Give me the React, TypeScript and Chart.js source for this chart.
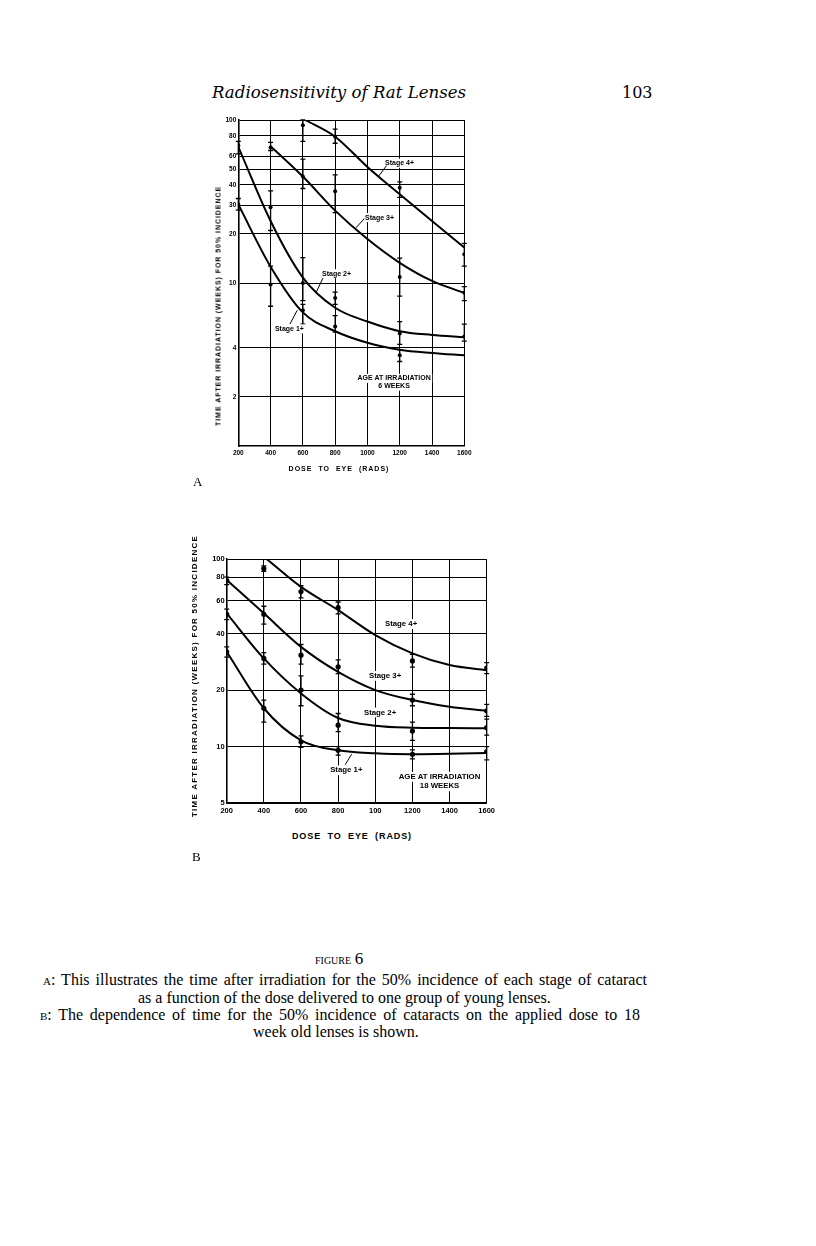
import React, { useEffect, useRef } from 'react';
import { Chart, registerables } from 'chart.js';

Chart.register(...registerables);

// ---------- shared axis data ----------
const DOSE_TICKS = [200, 400, 600, 800, 1000, 1200, 1400, 1600];
const A_X_LABELS = ['200', '400', '600', '800', '1000', '1200', '1400', '1600'];
const B_X_LABELS = ['200', '400', '600', '800', '100', '1200', '1400', '1600'];
const A_Y_TICKS = [2, 4, 10, 20, 30, 40, 50, 60, 80, 100];
const B_Y_TICKS = [5, 10, 20, 40, 60, 80, 100];

// ---------- Panel A (6 weeks) fitted curves ----------
const curveA4Dose = [615, 800, 1000, 1200, 1400, 1600];
const curveA4Time = [100, 79, 51.5, 35, 24, 16.5];
const curveA3Dose = [400, 600, 800, 1000, 1200, 1400, 1600];
const curveA3Time = [69, 45, 27.8, 18.6, 13.3, 10.3, 8.7];
const curveA2Dose = [200, 400, 600, 800, 1000, 1200, 1400, 1600];
const curveA2Time = [68.5, 24, 10.8, 7.05, 5.8, 5.06, 4.8, 4.65];
const curveA1Dose = [200, 400, 600, 800, 1000, 1200, 1400, 1600];
const curveA1Time = [30.3, 12.6, 6.6, 5.06, 4.3, 3.9, 3.72, 3.6];

// ---------- Panel A observed points ----------
const ptA4Dose = [600, 800, 1200, 1600];
const ptA4Time = [93, 79, 38.4, 15];
const ptA4Lo = [74, 72, 33.5, 12.7];
const ptA4Hi = [105, 88, 41.7, 17.5];
const ptA3Dose = [400, 600, 800, 1200, 1600];
const ptA3Time = [67.8, 45, 36.6, 10.9, 8.7];
const ptA3Lo = [65, 38, 27, 8.3, 7.8];
const ptA3Hi = [73, 57.5, 46, 14.2, 9.5];
const ptA2Dose = [200, 400, 600, 800, 1200, 1600];
const ptA2Time = [70, 29.2, 10, 8.1, 4.9, 4.7];
const ptA2Lo = [62, 21, 7.8, 7.4, 4.2, 4.4];
const ptA2Hi = [74, 36.7, 14.3, 8.8, 5.8, 5.6];
const ptA1Dose = [200, 400, 600, 800, 1200];
const ptA1Time = [30.3, 9.8, 6.8, 5.4, 3.6];
const ptA1Lo = [28, 7.2, 5.6, 5.0, 3.3];
const ptA1Hi = [33, 12.7, 7.4, 6.3, 3.9];

// ---------- Panel B (18 weeks) fitted curves ----------
const curveB4Dose = [415, 600, 800, 1000, 1200, 1400, 1600];
const curveB4Time = [100, 71, 53.4, 39.3, 31.4, 27.2, 25.5];
const curveB3Dose = [200, 400, 600, 800, 1000, 1200, 1400, 1600];
const curveB3Time = [77.3, 51.3, 34, 25, 20, 17.7, 16.3, 15.5];
const curveB2Dose = [200, 400, 600, 800, 1000, 1200, 1400, 1600];
const curveB2Time = [51.3, 29.5, 19.2, 14.2, 12.9, 12.6, 12.55, 12.5];
const curveB1Dose = [200, 400, 600, 800, 1000, 1200, 1400, 1600];
const curveB1Time = [32, 16, 10.8, 9.55, 9.2, 9.1, 9.15, 9.25];

// ---------- Panel B observed points ----------
const ptB4Dose = [400, 600, 800, 1200, 1600];
const ptB4Time = [89, 67, 55, 28.6, 26.2];
const ptB4Lo = [86, 62, 51, 26.5, 24.5];
const ptB4Hi = [92, 72, 59, 31, 28];
const ptB3Dose = [200, 400, 600, 800, 1200, 1600];
const ptB3Time = [77, 50.7, 30.7, 26.6, 17.7, 15.5];
const ptB3Lo = [73, 45, 27.5, 24.5, 16.5, 14.5];
const ptB3Hi = [80, 56, 35, 29, 19, 16.8];
const ptB2Dose = [200, 400, 600, 800, 1200, 1600];
const ptB2Time = [50.7, 29.5, 20, 13, 12.1, 12.6];
const ptB2Lo = [47.5, 27.5, 16.5, 12, 10.8, 11.5];
const ptB2Hi = [54, 31.7, 23.8, 15, 13.5, 14];
const ptB1Dose = [200, 400, 600, 800, 1200, 1600];
const ptB1Time = [32, 16, 10.6, 9.55, 9.1, 9.4];
const ptB1Lo = [30, 13.5, 9.9, 9, 8.6, 8.5];
const ptB1Hi = [34, 17.7, 11.4, 10, 9.6, 10];

// ---------- in-plot labels (data coordinates) ----------
const A_NOTES = [
  { text: 'Stage 4+', x: 1109, y: 54.3, align: 'left' },
  { text: 'Stage 3+', x: 985, y: 25.2, align: 'left' },
  { text: 'Stage 2+', x: 719, y: 11.4, align: 'left' },
  { text: 'Stage 1+', x: 427, y: 5.23, align: 'left' },
  { text: 'AGE AT IRRADIATION', x: 1165, y: 2.6, align: 'center' },
  { text: '6 WEEKS', x: 1165, y: 2.33, align: 'center' },
];
const A_LEADERS = [
  [[1068, 45], [1118, 52.5]],
  [[929, 21.8], [980, 24.8]],
  [[681, 8.7], [724, 10.7]],
  [[520, 5.6], [565, 6.8]],
];
const B_NOTES = [
  { text: 'Stage 4+', x: 1052, y: 45, align: 'left' },
  { text: 'Stage 3+', x: 966, y: 23.8, align: 'left' },
  { text: 'Stage 2+', x: 939, y: 15.2, align: 'left' },
  { text: 'Stage 1+', x: 757, y: 7.47, align: 'left' },
  { text: 'AGE AT IRRADIATION', x: 1346, y: 6.9, align: 'center' },
  { text: '18 WEEKS', x: 1346, y: 6.14, align: 'center' },
];
const B_LEADERS = [[[873, 9.1], [838, 8.0]]];

const pts = (xs: number[], ys: number[]) => xs.map((x, i) => ({ x, y: ys[i] }));

const curve = (xs: number[], ys: number[]) => ({
  data: pts(xs, ys),
  showLine: true,
  borderColor: '#000',
  borderWidth: 2,
  pointRadius: 0,
  cubicInterpolationMode: 'monotone',
  fill: false,
});

const marks = (xs: number[], ys: number[], lo: number[], hi: number[], r: number) => ({
  data: pts(xs, ys),
  showLine: false,
  backgroundColor: '#000',
  borderColor: '#000',
  pointRadius: r,
  pointBorderWidth: 0,
  errLo: lo,
  errHi: hi,
});

const errorBarPlugin = {
  id: 'errorBars',
  afterDatasetsDraw(chart: any, _a: any, opts: any) {
    const { ctx, chartArea, scales } = chart;
    const xs = scales.x;
    const ys = scales.y;
    ctx.save();
    ctx.strokeStyle = '#000';
    ctx.lineWidth = opts.width || 1.3;
    chart.data.datasets.forEach((ds: any) => {
      if (!ds.errLo) return;
      ds.data.forEach((p: any, i: number) => {
        const px = xs.getPixelForValue(p.x);
        const top = Math.max(chartArea.top, ys.getPixelForValue(ds.errHi[i]));
        const bot = Math.min(chartArea.bottom, ys.getPixelForValue(ds.errLo[i]));
        const cap = opts.cap || 2.5;
        ctx.beginPath();
        ctx.moveTo(px, top);
        ctx.lineTo(px, bot);
        ctx.moveTo(px - cap, top);
        ctx.lineTo(px + cap, top);
        ctx.moveTo(px - cap, bot);
        ctx.lineTo(px + cap, bot);
        ctx.stroke();
      });
    });
    ctx.restore();
  },
};

const notesPlugin = {
  id: 'notes',
  afterDatasetsDraw(chart: any, _a: any, opts: any) {
    const { ctx, scales } = chart;
    const xs = scales.x;
    const ys = scales.y;
    ctx.save();
    ctx.fillStyle = '#000';
    ctx.strokeStyle = '#000';
    ctx.lineWidth = 1;
    ctx.textBaseline = 'middle';
    ctx.font = `bold ${opts.size}px "Liberation Sans"`;
    // white backing so grid lines break behind the lettering
    (opts.notes || []).forEach((n: any) => {
      const w = ctx.measureText(n.text).width;
      const px = xs.getPixelForValue(n.x);
      const py = ys.getPixelForValue(n.y);
      const x0 = n.align === 'center' ? px - w / 2 : px;
      ctx.fillStyle = '#fff';
      ctx.fillRect(x0 - 1.5, py - opts.size / 2 - 1, w + 3, opts.size + 2);
    });
    ctx.fillStyle = '#000';
    (opts.leaders || []).forEach((l: any) => {
      ctx.beginPath();
      ctx.moveTo(xs.getPixelForValue(l[0][0]), ys.getPixelForValue(l[0][1]));
      ctx.lineTo(xs.getPixelForValue(l[1][0]), ys.getPixelForValue(l[1][1]));
      ctx.stroke();
    });
    (opts.notes || []).forEach((n: any) => {
      ctx.textAlign = n.align;
      ctx.fillText(n.text, xs.getPixelForValue(n.x), ys.getPixelForValue(n.y));
    });
    ctx.restore();
  },
};

type PanelSpec = {
  datasets: any[];
  yMin: number;
  yTicks: number[];
  xLabels: string[];
  tickSize: number;
  yAxisWidth: number;
  xAxisHeight: number;
  padTop: number;
  padRight: number;
  notes: any[];
  leaders: any[];
  noteSize: number;
};

function buildConfig(s: PanelSpec): any {
  const tickFont = { family: 'Liberation Sans', size: s.tickSize, weight: 'bold' };
  return {
    type: 'scatter',
    data: { datasets: s.datasets },
    options: {
      animation: false,
      responsive: false,
      events: [],
      layout: { padding: { top: s.padTop, right: s.padRight, left: 0, bottom: 0 } },
      plugins: {
        legend: { display: false },
        tooltip: { enabled: false },
        errorBars: { width: 1.3, cap: 2.5 },
        notes: { notes: s.notes, leaders: s.leaders, size: s.noteSize },
      },
      scales: {
        x: {
          type: 'linear',
          min: 200,
          max: 1600,
          afterBuildTicks: (sc: any) => {
            sc.ticks = DOSE_TICKS.map((v) => ({ value: v }));
          },
          afterFit: (sc: any) => {
            sc.height = s.xAxisHeight;
          },
          ticks: {
            autoSkip: false,
            maxRotation: 0,
            padding: 3,
            color: '#000',
            font: tickFont,
            callback: (v: number) => s.xLabels[DOSE_TICKS.indexOf(v)],
          },
          grid: { color: '#000', lineWidth: 1, drawTicks: false },
          border: { display: true, color: '#000', width: 1.6 },
        },
        y: {
          type: 'logarithmic',
          min: s.yMin,
          max: 100,
          afterBuildTicks: (sc: any) => {
            sc.ticks = s.yTicks.map((v) => ({ value: v }));
          },
          afterFit: (sc: any) => {
            sc.width = s.yAxisWidth;
          },
          ticks: {
            autoSkip: false,
            padding: 2,
            color: '#000',
            font: tickFont,
            callback: (v: number) => String(v),
          },
          grid: { color: '#000', lineWidth: 1, drawTicks: false },
          border: { display: true, color: '#000', width: 1.6 },
        },
      },
    },
    plugins: [errorBarPlugin, notesPlugin],
  };
}

const specA: PanelSpec = {
  datasets: [
    curve(curveA4Dose, curveA4Time),
    curve(curveA3Dose, curveA3Time),
    curve(curveA2Dose, curveA2Time),
    curve(curveA1Dose, curveA1Time),
    marks(ptA4Dose, ptA4Time, ptA4Lo, ptA4Hi, 2),
    marks(ptA3Dose, ptA3Time, ptA3Lo, ptA3Hi, 2),
    marks(ptA2Dose, ptA2Time, ptA2Lo, ptA2Hi, 2),
    marks(ptA1Dose, ptA1Time, ptA1Lo, ptA1Hi, 2),
  ],
  yMin: 1,
  yTicks: A_Y_TICKS,
  xLabels: A_X_LABELS,
  tickSize: 6.5,
  yAxisWidth: 58.3,
  xAxisHeight: 19,
  padTop: 20,
  padRight: 15.7,
  notes: A_NOTES,
  leaders: A_LEADERS,
  noteSize: 7,
};

const specB: PanelSpec = {
  datasets: [
    curve(curveB4Dose, curveB4Time),
    curve(curveB3Dose, curveB3Time),
    curve(curveB2Dose, curveB2Time),
    curve(curveB1Dose, curveB1Time),
    marks(ptB4Dose, ptB4Time, ptB4Lo, ptB4Hi, 2.6),
    marks(ptB3Dose, ptB3Time, ptB3Lo, ptB3Hi, 2.6),
    marks(ptB2Dose, ptB2Time, ptB2Lo, ptB2Hi, 2.6),
    marks(ptB1Dose, ptB1Time, ptB1Lo, ptB1Hi, 2.6),
  ],
  yMin: 5,
  yTicks: B_Y_TICKS,
  xLabels: B_X_LABELS,
  tickSize: 7.5,
  yAxisWidth: 56.7,
  xAxisHeight: 27,
  padTop: 19,
  padRight: 13.3,
  notes: B_NOTES,
  leaders: B_LEADERS,
  noteSize: 7.8,
};

function Panel({ spec, left, top, width, height }: { spec: PanelSpec; left: number; top: number; width: number; height: number }) {
  const ref = useRef<HTMLCanvasElement>(null);
  useEffect(() => {
    const chart = new Chart(ref.current as HTMLCanvasElement, buildConfig(spec));
    return () => chart.destroy();
  }, []);
  return (
    <canvas
      ref={ref}
      width={width}
      height={height}
      style={{ position: 'absolute', left, top, width, height }}
    />
  );
}

const abs = (left: number, top: number, extra: any = {}) => ({
  position: 'absolute' as const,
  left,
  top,
  whiteSpace: 'nowrap' as const,
  ...extra,
});

const sansBold = { fontFamily: '"Liberation Sans", Arial, sans-serif', fontWeight: 'bold' as const };

function VTitle({ cx, cy, size, spacing, text }: { cx: number; cy: number; size: number; spacing: number; text: string }) {
  return (
    <div
      style={{
        ...abs(cx, cy),
        ...sansBold,
        fontSize: size,
        letterSpacing: spacing,
        lineHeight: 1,
        transform: 'translate(-50%, -50%) rotate(-90deg)',
      }}
    >
      {text}
    </div>
  );
}

function HTitle({ cx, cy, size, spacing, text }: { cx: number; cy: number; size: number; spacing: number; text: string }) {
  return (
    <div
      style={{
        ...abs(cx, cy),
        ...sansBold,
        fontSize: size,
        letterSpacing: spacing,
        wordSpacing: 3,
        lineHeight: 1,
        transform: 'translate(-50%, -50%)',
      }}
    >
      {text}
    </div>
  );
}

const serif = { fontFamily: '"Liberation Serif", "Times New Roman", serif' };
const capLine = { ...serif, fontSize: 16, lineHeight: '17px' };

export default function App() {
  return (
    <div style={{ position: 'absolute', left: 0, top: 0, width: 816, height: 1246, background: '#fff', color: '#000' }}>
      <div style={abs(212, 83, { fontFamily: '"DejaVu Serif", serif', fontStyle: 'italic', fontSize: 16.6, lineHeight: '20px' })}>
        Radiosensitivity of Rat Lenses
      </div>
      <div style={abs(622, 83, { fontFamily: '"DejaVu Serif", serif', fontSize: 16, lineHeight: '20px' })}>103</div>

      <Panel spec={specA} left={180} top={100} width={300} height={365} />
      <VTitle cx={218} cy={306} size={7} spacing={0.95} text="TIME AFTER IRRADIATION (WEEKS) FOR 50% INCIDENCE" />
      <HTitle cx={339} cy={468} size={7} spacing={1} text="DOSE TO EYE (RADS)" />
      <div style={abs(193, 474, { ...serif, fontSize: 13, lineHeight: '16px' })}>A</div>

      <Panel spec={specB} left={170} top={540} width={330} height={290} />
      <VTitle cx={195} cy={676} size={8} spacing={1.25} text="TIME AFTER IRRADIATION (WEEKS) FOR 50% INCIDENCE" />
      <HTitle cx={352} cy={836} size={9} spacing={0.9} text="DOSE TO EYE (RADS)" />
      <div style={abs(192, 849, { ...serif, fontSize: 13, lineHeight: '16px' })}>B</div>

      <div style={abs(315, 950, { ...serif, fontSize: 14, lineHeight: '17px' })}>
        <span style={{ fontVariant: 'small-caps' }}>figure</span>{' '}
        <span style={{ fontSize: 17 }}>6</span>
      </div>
      <div style={abs(43, 971, { ...capLine, width: 604, textAlign: 'justify', textAlignLast: 'justify', whiteSpace: 'normal' })}>
        <span style={{ fontVariant: 'small-caps' }}>a</span>: This illustrates the time after irradiation for the 50% incidence of each stage of cataract
      </div>
      <div style={abs(138, 989, capLine)}>as a function of the dose delivered to one group of young lenses.</div>
      <div style={abs(40, 1006, { ...capLine, width: 600, textAlign: 'justify', textAlignLast: 'justify', whiteSpace: 'normal' })}>
        <span style={{ fontVariant: 'small-caps' }}>b</span>: The dependence of time for the 50% incidence of cataracts on the applied dose to 18
      </div>
      <div style={abs(253, 1023, capLine)}>week old lenses is shown.</div>
    </div>
  );
}
